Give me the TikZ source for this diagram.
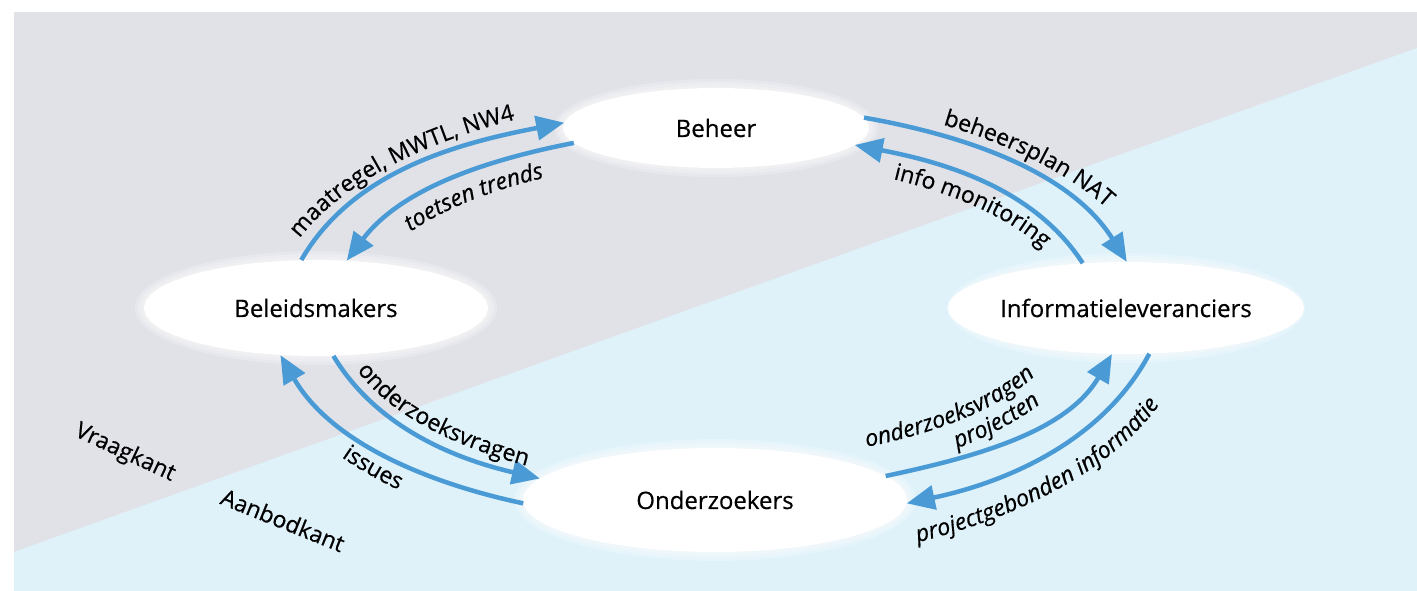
\documentclass[tikz,border=0pt]{standalone}
\usepackage{fontspec}
\setmainfont{Open Sans}[FakeBold=0.5]
\usetikzlibrary{shapes.geometric,arrows.meta,decorations.text}
\definecolor{arr}{HTML}{4A9BD5}
\definecolor{bggray}{HTML}{E1E2E8}
\definecolor{bgblue}{HTML}{DFF2FA}
\newcommand\nodefont{\fontsize{24}{28}\selectfont}
\newcommand\lblfont{\fontsize{23}{27}\selectfont}
\newcommand\lblit{\fontsize{23}{27}\selectfont\itshape}
\begin{document}
\begin{tikzpicture}[x=1pt,y=1pt,
  blob/.style={ellipse, fill=white, inner sep=0pt, font=\nodefont, text=black},
  halo/.style={fill=white, opacity=0.22},
  flow/.style={draw=arr, line width=4.5pt, looseness=0.9, -{Triangle[length=28pt,width=24pt]}},
  side/.style={font=\lblfont, inner sep=0pt},
]
\useasboundingbox (0,0) rectangle (1417,591);
% background
\fill[bggray] (14,0) rectangle (1417,579);
\fill[bgblue] (14,0) -- (14,39) -- (1417,543) -- (1417,0) -- cycle;
\coordinate (c) at (716,275);

% soft halos
\foreach \d in {3,6,9}{
  \fill[halo] (716,463) ellipse[x radius=153pt+\d pt, y radius=40pt+\d pt];
  \fill[halo] (316,283) ellipse[x radius=172pt+\d pt, y radius=48pt+\d pt];
  \fill[halo] (1126,283) ellipse[x radius=170pt+\d pt, y radius=46pt+\d pt];
  \fill[halo] (715,91) ellipse[x radius=192pt+\d pt, y radius=52pt+\d pt];
}

% nodes
\node[blob, minimum width=306pt, minimum height=80pt] (beh) at (716,463) {Beheer};
\node[blob, minimum width=344pt, minimum height=96pt] (bel) at (316,283) {Beleidsmakers};
\node[blob, minimum width=340pt, minimum height=92pt] (inf) at (1126,283) {Informatieleveranciers};
\node[blob, minimum width=384pt, minimum height=104pt] (ond) at (715,91) {Onderzoekers};

% connectors
\draw[flow] (bel.107) to[out=60,in=191] (beh.178);
\draw[flow] (beh.186) to[out=191,in=53] (bel.57);
\draw[flow] (beh.4) to[out=-10,in=122] (inf.89);
\draw[flow] (inf.134) to[out=123,in=-11] (beh.-7);
\draw[flow] (bel.-70) to[out=-59,in=167] (ond.173);
\draw[flow] (ond.181) to[out=168,in=-60] (bel.233);
\draw[flow] (ond.8) to[out=12,in=240] (inf.253);
\draw[flow] (inf.-63) to[out=242,in=12] (ond.-1);

% labels along arcs
\path[decorate, decoration={text along path, text align=center,
  text={|\lblfont|maatregel, MWTL, NW4}}]
  ([shift={(164:445pt and 220pt)}]c) arc[start angle=164, end angle=114, x radius=445pt, y radius=220pt];
\path[decorate, decoration={text along path, text align=center,
  text={|\lblit|toetsen trends}}]
  ([shift={(154:362pt and 157pt)}]c) arc[start angle=154, end angle=114, x radius=362pt, y radius=157pt];
\path[decorate, decoration={text along path, text align=center,
  text={|\lblfont|beheersplan NAT}}]
  ([shift={(65:447pt and 222pt)}]c) arc[start angle=65, end angle=21, x radius=447pt, y radius=222pt];
\path[decorate, decoration={text along path, text align=center,
  text={|\lblfont|info monitoring}}]
  ([shift={(64:362pt and 157pt)}]c) arc[start angle=64, end angle=20, x radius=362pt, y radius=157pt];
\path[decorate, decoration={text along path, text align=center,
  text={|\lblfont|onderzoeksvragen}}]
  ([shift={(193:378pt and 173pt)}]c) arc[start angle=193, end angle=243, x radius=378pt, y radius=173pt];
\path[decorate, decoration={text along path, text align=center,
  text={|\lblfont|issues}}]
  ([shift={(205:465pt and 238pt)}]c) arc[start angle=205, end angle=236, x radius=465pt, y radius=238pt];
\path[decorate, decoration={text along path, text align=center,
  text={|\lblit|onderzoeksvragen}}]
  ([shift={(-68:350pt and 145pt)}]c) arc[start angle=-68, end angle=-18, x radius=350pt, y radius=145pt];
\path[decorate, decoration={text along path, text align=center,
  text={|\lblit|projecten}}]
  ([shift={(-55:377pt and 172pt)}]c) arc[start angle=-55, end angle=-24, x radius=377pt, y radius=172pt];
\path[decorate, decoration={text along path, text align=center,
  text={|\lblit|projectgebonden informatie}}]
  ([shift={(-73:474pt and 250pt)}]c) arc[start angle=-73, end angle=-7, x radius=474pt, y radius=250pt];

% side labels
\node[side, rotate=-25] (vraag) at (125,138) {Vraagkant};
\node[side, rotate=-22] (aanbod) at (283,71) {Aanbodkant};
\end{tikzpicture}
\end{document}
